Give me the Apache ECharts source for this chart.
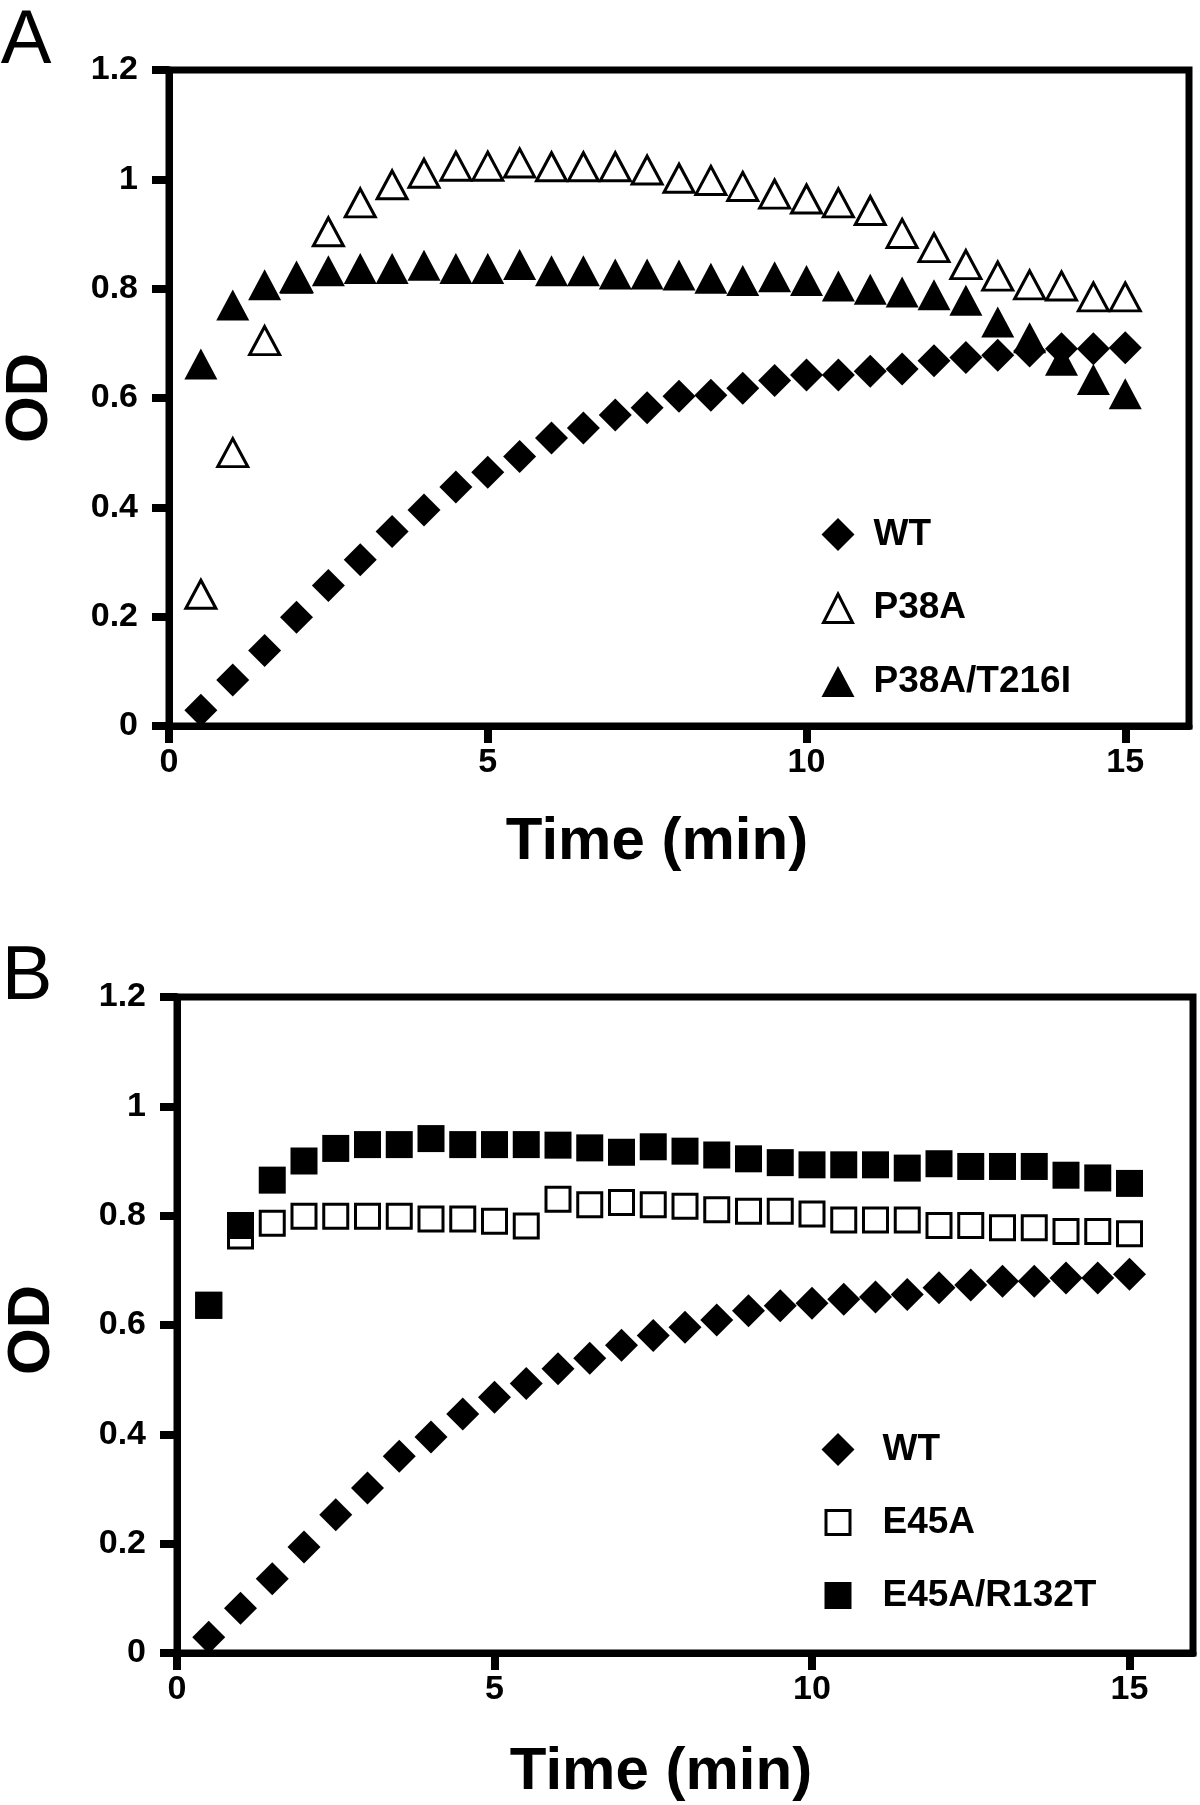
<!DOCTYPE html>
<html>
<head>
<meta charset="utf-8">
<script src="https://cdn.jsdelivr.net/npm/echarts@6/dist/echarts.min.js"></script>
<style>
  html, body { margin: 0; padding: 0; background: #fff; }
  #chart { width: 1200px; height: 1805px; }
</style>
</head>
<body>
<div id="chart"></div>
<script>
// sampling times (min)
const times = [0.5, 1, 1.5, 2, 2.5, 3, 3.5, 4, 4.5, 5, 5.5, 6, 6.5, 7, 7.5,
  8, 8.5, 9, 9.5, 10, 10.5, 11, 11.5, 12, 12.5, 13, 13.5, 14, 14.5, 15];

// panel A
const wtA = [0.029, 0.084, 0.138, 0.199, 0.257, 0.304, 0.356, 0.395, 0.437, 0.464,
  0.493, 0.527, 0.545, 0.569, 0.582, 0.603, 0.605, 0.618, 0.632, 0.642,
  0.642, 0.649, 0.653, 0.668, 0.674, 0.678, 0.686, 0.69, 0.69, 0.692];
const p38a = [0.241, 0.5, 0.705, 0.82, 0.904, 0.957, 0.99, 1.011, 1.024, 1.024,
  1.03, 1.023, 1.023, 1.023, 1.017, 1.002, 0.998, 0.987, 0.973, 0.964,
  0.957, 0.943, 0.901, 0.875, 0.844, 0.823, 0.807, 0.805, 0.785, 0.785];
const p38aT216i = [0.662, 0.77, 0.807, 0.819, 0.833, 0.837, 0.837, 0.843, 0.837, 0.837,
  0.844, 0.833, 0.833, 0.827, 0.827, 0.825, 0.819, 0.815, 0.822, 0.815,
  0.805, 0.799, 0.794, 0.789, 0.779, 0.739, 0.71, 0.669, 0.634, 0.608];

// panel B
const wtB = [0.029, 0.082, 0.136, 0.194, 0.253, 0.302, 0.36, 0.395, 0.437, 0.468,
  0.493, 0.52, 0.539, 0.563, 0.581, 0.596, 0.609, 0.626, 0.635, 0.64,
  0.647, 0.651, 0.656, 0.668, 0.673, 0.68, 0.68, 0.686, 0.686, 0.693];
const e45a = [0.636, 0.763, 0.786, 0.799, 0.799, 0.799, 0.799, 0.794, 0.794, 0.79,
  0.781, 0.83, 0.82, 0.824, 0.82, 0.817, 0.811, 0.808, 0.808, 0.803,
  0.792, 0.792, 0.792, 0.782, 0.782, 0.778, 0.778, 0.771, 0.771, 0.767];
const e45aR132t = [0.636, 0.782, 0.865, 0.9, 0.923, 0.93, 0.93, 0.941, 0.93, 0.93,
  0.93, 0.929, 0.924, 0.916, 0.926, 0.918, 0.911, 0.904, 0.897, 0.893,
  0.893, 0.893, 0.887, 0.895, 0.89, 0.89, 0.89, 0.874, 0.869, 0.859];

const yTicks = [0, 0.2, 0.4, 0.6, 0.8, 1, 1.2];
const xTicks = [0, 5, 10, 15];

const FONT = "'Liberation Sans', Arial, Helvetica, sans-serif";
const zip = ys => times.map((t, i) => [t, ys[i]]);

function xAxisFor(gridIndex) {
  return {
    type: 'value', gridIndex: gridIndex, min: 0, max: 16, interval: 5,
    splitLine: { show: false },
    axisLine: { show: true, onZero: false, lineStyle: { color: '#000', width: 7 } },
    axisTick: { show: true, inside: false, length: 17, customValues: xTicks,
      lineStyle: { color: '#000', width: 8 } },
    axisLabel: { customValues: xTicks, margin: 20, color: '#000', fontSize: 34,
      fontWeight: 'bold', fontFamily: FONT }
  };
}

function yAxisFor(gridIndex) {
  return {
    type: 'value', gridIndex: gridIndex, min: 0, max: 1.2, interval: 0.2,
    splitLine: { show: false },
    axisLine: { show: true, lineStyle: { color: '#000', width: 7 } },
    axisTick: { show: true, inside: false, length: 17, customValues: yTicks,
      lineStyle: { color: '#000', width: 8 } },
    axisLabel: { customValues: yTicks, margin: 31, color: '#000', fontSize: 34,
      fontWeight: 'bold', fontFamily: FONT }
  };
}

const filled = { color: '#000', borderWidth: 0, opacity: 1 };
const hollow = { color: '#fff', borderColor: '#000', borderWidth: 3, opacity: 1 };

// legend icons: the leading moves pin every icon to a 33x33 box
const ICON_DIAMOND = 'path://M0,0M33,33M16.5,0L33,16.5L16.5,33L0,16.5Z';
const ICON_TRI_OPEN = 'path://M0,0M33,33M16.5,2.5L31,31L2,31Z';
const ICON_TRI = 'path://M0,0M33,33M16.5,1L33,32L0,32Z';
const ICON_SQ_OPEN = 'path://M0,0M33,33M4.5,4.5L28.5,4.5L28.5,28.5L4.5,28.5Z';
const ICON_SQ = 'path://M0,0M33,33M3,3L30,3L30,30L3,30Z';

function legendText(gap) {
  return { color: '#000', fontSize: 37, fontWeight: 'bold', fontFamily: FONT,
    lineHeight: 33, padding: [0, 0, 0, gap] };
}

const chart = echarts.init(document.getElementById('chart'), null, { renderer: 'canvas' });
chart.setOption({
  animation: false,
  backgroundColor: '#fff',
  grid: [
    { left: 169, top: 70, width: 1020, height: 656, show: true,
      borderColor: '#000', borderWidth: 7, backgroundColor: 'transparent' },
    { left: 177, top: 997, width: 1016, height: 656, show: true,
      borderColor: '#000', borderWidth: 7, backgroundColor: 'transparent' }
  ],
  xAxis: [xAxisFor(0), xAxisFor(1)],
  yAxis: [yAxisFor(0), yAxisFor(1)],
  legend: [
    { orient: 'vertical', left: 820, top: 516, padding: 0, itemWidth: 33, itemHeight: 33,
      itemGap: 36.5, selectedMode: false, textStyle: legendText(14),
      data: [
        { name: 'WT', icon: ICON_DIAMOND, itemStyle: { color: '#000', borderWidth: 0, opacity: 1 } },
        { name: 'P38A', icon: ICON_TRI_OPEN, itemStyle: { color: '#fff', borderColor: '#000', borderWidth: 3, opacity: 1 } },
        { name: 'P38A/T216I', icon: ICON_TRI, itemStyle: { color: '#000', borderWidth: 0, opacity: 1 } }
      ] },
    { orient: 'vertical', left: 820, top: 1431, padding: 0, itemWidth: 33, itemHeight: 33,
      itemGap: 36, selectedMode: false, textStyle: legendText(23),
      data: [
        { name: 'WT', icon: ICON_DIAMOND, itemStyle: { color: '#000', borderWidth: 0, opacity: 1 } },
        { name: 'E45A', icon: ICON_SQ_OPEN, itemStyle: { color: '#fff', borderColor: '#000', borderWidth: 3, opacity: 1 } },
        { name: 'E45A/R132T', icon: ICON_SQ, itemStyle: { color: '#000', borderWidth: 0, opacity: 1 } }
      ] }
  ],
  series: [
    { name: 'WT', type: 'scatter', xAxisIndex: 0, yAxisIndex: 0, symbol: 'diamond',
      symbolSize: 33, itemStyle: filled, data: zip(wtA) },
    { name: 'P38A', type: 'scatter', xAxisIndex: 0, yAxisIndex: 0, symbol: 'triangle',
      symbolSize: [30, 28], itemStyle: hollow, data: zip(p38a) },
    { name: 'P38A/T216I', type: 'scatter', xAxisIndex: 0, yAxisIndex: 0, symbol: 'triangle',
      symbolSize: [33, 31], itemStyle: filled, data: zip(p38aT216i) },
    { name: 'WT', type: 'scatter', xAxisIndex: 1, yAxisIndex: 1, symbol: 'diamond',
      symbolSize: 33, itemStyle: filled, data: zip(wtB) },
    { name: 'E45A', type: 'scatter', xAxisIndex: 1, yAxisIndex: 1, symbol: 'rect',
      symbolSize: 24, itemStyle: hollow, data: zip(e45a) },
    { name: 'E45A/R132T', type: 'scatter', xAxisIndex: 1, yAxisIndex: 1, symbol: 'rect',
      symbolSize: 27, itemStyle: filled, data: zip(e45aR132t) }
  ],
  graphic: [
    { type: 'text', x: 26, y: 42, style: { text: 'A', fill: '#000',
      font: 'normal 76px ' + FONT, align: 'center', verticalAlign: 'middle' } },
    { type: 'text', x: 27, y: 978, style: { text: 'B', fill: '#000',
      font: 'normal 76px ' + FONT, align: 'center', verticalAlign: 'middle' } },
    { type: 'text', x: 30, y: 398, rotation: Math.PI / 2, style: { text: 'OD', fill: '#000',
      font: 'bold 60px ' + FONT, align: 'center', verticalAlign: 'middle' } },
    { type: 'text', x: 32, y: 1330, rotation: Math.PI / 2, style: { text: 'OD', fill: '#000',
      font: 'bold 60px ' + FONT, align: 'center', verticalAlign: 'middle' } },
    { type: 'text', x: 657, y: 842, style: { text: 'Time (min)', fill: '#000',
      font: 'bold 60px ' + FONT, align: 'center', verticalAlign: 'middle' } },
    { type: 'text', x: 661, y: 1772, style: { text: 'Time (min)', fill: '#000',
      font: 'bold 60px ' + FONT, align: 'center', verticalAlign: 'middle' } }
  ]
});
</script>
</body>
</html>
